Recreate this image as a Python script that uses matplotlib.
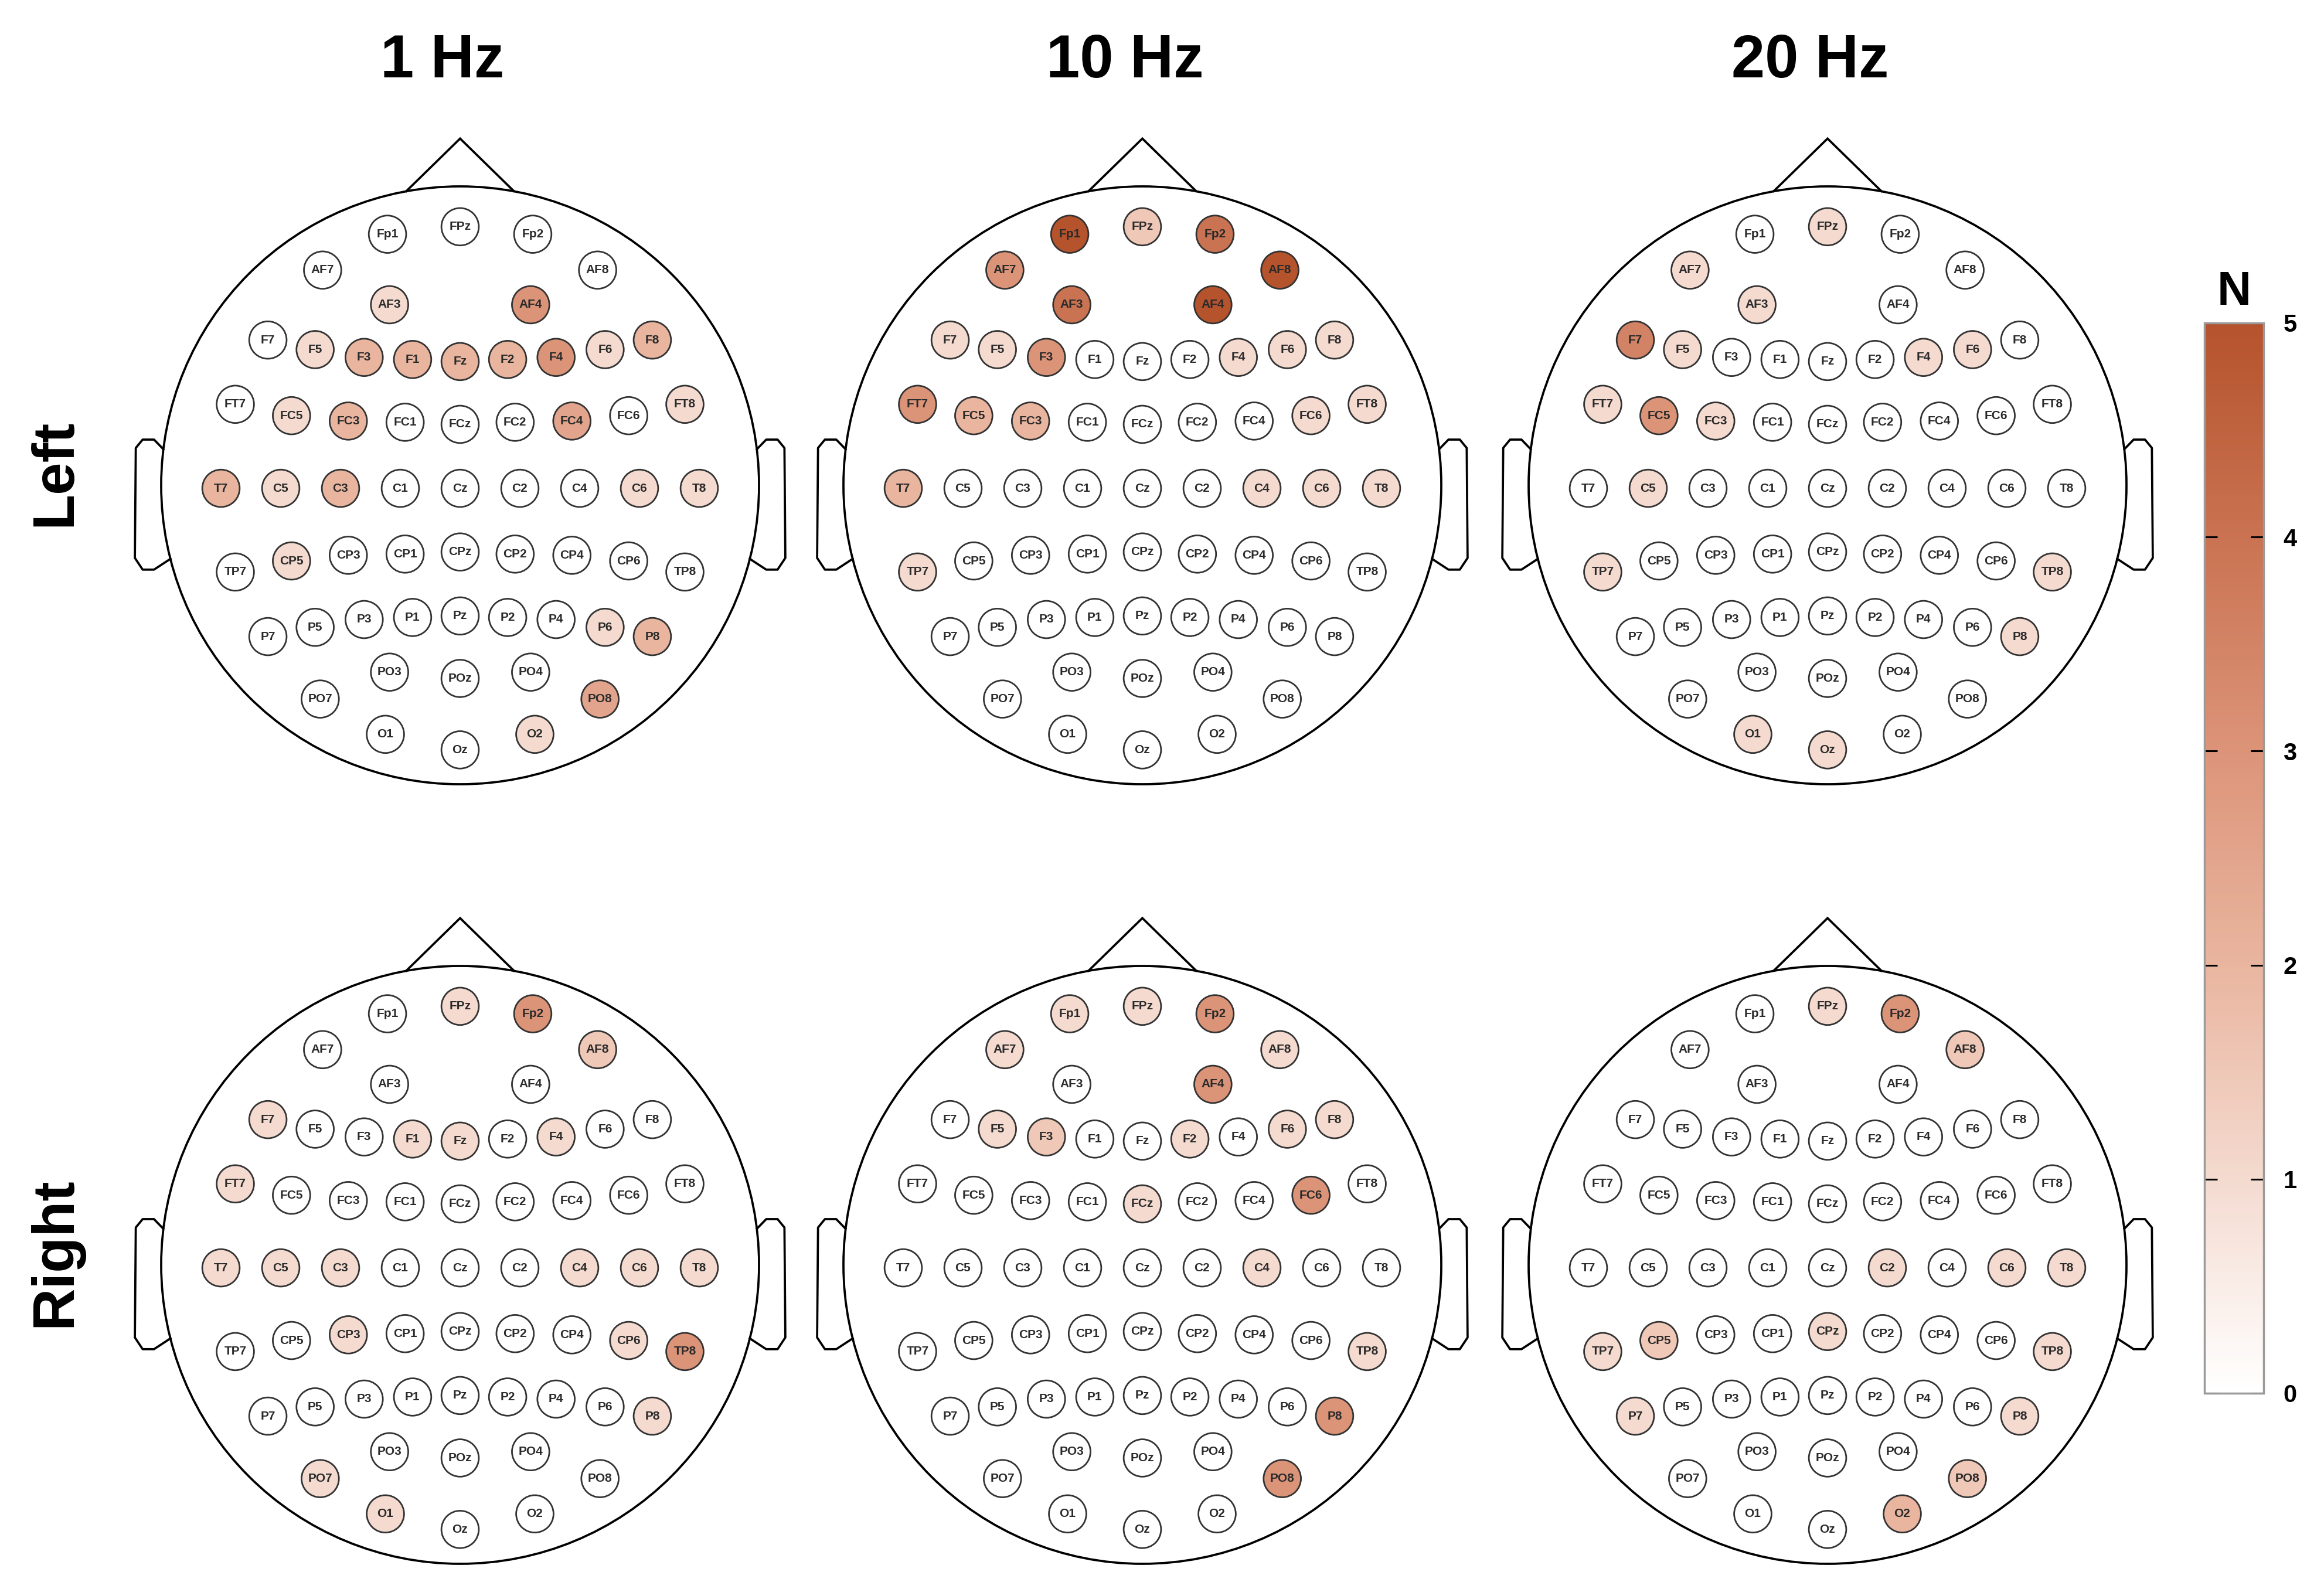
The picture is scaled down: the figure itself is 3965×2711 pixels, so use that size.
import matplotlib
matplotlib.use('Agg')
import matplotlib.pyplot as plt
import numpy as np
from matplotlib.patches import Circle
from matplotlib.colors import LinearSegmentedColormap, Normalize
import matplotlib.cm as cm

plt.rcParams['font.family'] = ['Liberation Sans', 'DejaVu Sans']

# electrode layout (head radius = 1, Cz near the centre)
channels = ['Fp1', 'FPz', 'Fp2',
            'AF7', 'AF3', 'AF4', 'AF8',
            'F7', 'F5', 'F3', 'F1', 'Fz', 'F2', 'F4', 'F6', 'F8',
            'FT7', 'FC5', 'FC3', 'FC1', 'FCz', 'FC2', 'FC4', 'FC6', 'FT8',
            'T7', 'C5', 'C3', 'C1', 'Cz', 'C2', 'C4', 'C6', 'T8',
            'TP7', 'CP5', 'CP3', 'CP1', 'CPz', 'CP2', 'CP4', 'CP6', 'TP8',
            'P7', 'P5', 'P3', 'P1', 'Pz', 'P2', 'P4', 'P6', 'P8',
            'PO7', 'PO3', 'POz', 'PO4', 'PO8',
            'O1', 'Oz', 'O2']
chan_x = [-0.243, 0.0, 0.243,
          -0.46, -0.236, 0.236, 0.46,
          -0.643, -0.485, -0.321, -0.159, 0.0, 0.159, 0.321, 0.485, 0.643,
          -0.752, -0.564, -0.374, -0.184, 0.0, 0.184, 0.374, 0.564, 0.752,
          -0.8, -0.6, -0.4, -0.2, 0.0, 0.2, 0.4, 0.6, 0.8,
          -0.752, -0.564, -0.374, -0.184, 0.0, 0.184, 0.374, 0.564, 0.752,
          -0.643, -0.485, -0.321, -0.159, 0.0, 0.159, 0.321, 0.485, 0.643,
          -0.468, -0.236, 0.0, 0.236, 0.468,
          -0.25, 0.0, 0.25]
chan_y = [0.84, 0.865, 0.84,
          0.72, 0.604, 0.604, 0.72,
          0.486, 0.454, 0.428, 0.421, 0.414, 0.421, 0.428, 0.454, 0.486,
          0.271, 0.233, 0.215, 0.211, 0.204, 0.211, 0.215, 0.233, 0.271,
          -0.01, -0.01, -0.01, -0.01, -0.01, -0.01, -0.01, -0.01, -0.01,
          -0.29, -0.253, -0.234, -0.23, -0.223, -0.23, -0.234, -0.253, -0.29,
          -0.506, -0.475, -0.449, -0.442, -0.437, -0.442, -0.449, -0.475, -0.506,
          -0.715, -0.625, -0.646, -0.625, -0.715,
          -0.833, -0.885, -0.833]

freqs = ['1 Hz', '10 Hz', '20 Hz']
sides = ['Left', 'Right']

# N per electrode (electrodes not listed are 0)
left_1hz = {'AF3': 1, 'AF4': 3, 'F5': 1, 'F3': 2, 'F1': 2, 'Fz': 2, 'F2': 2, 'F4': 3,
            'F6': 1, 'F8': 2, 'FC5': 1, 'FC3': 2, 'FC4': 2.5, 'FT8': 1, 'T7': 2,
            'C5': 1, 'C3': 2, 'C6': 1, 'T8': 1, 'CP5': 1, 'P6': 1, 'P8': 2,
            'PO8': 2.5, 'O2': 1}
left_10hz = {'Fp1': 5, 'FPz': 1.5, 'Fp2': 4, 'AF7': 3, 'AF3': 4, 'AF4': 5, 'AF8': 5,
             'F7': 1, 'F5': 1, 'F3': 3, 'F4': 1, 'F6': 1, 'F8': 1, 'FT7': 3,
             'FC5': 2, 'FC3': 2, 'FC6': 1, 'FT8': 1, 'T7': 2, 'C4': 1, 'C6': 1,
             'T8': 1, 'TP7': 1}
left_20hz = {'FPz': 1, 'AF7': 1, 'AF3': 1, 'F7': 3.5, 'F5': 1, 'F4': 1, 'F6': 1,
             'FT7': 1, 'FC5': 3, 'FC3': 1, 'C5': 1, 'TP7': 1, 'TP8': 1, 'P8': 1,
             'O1': 1, 'Oz': 1}
right_1hz = {'FPz': 1, 'Fp2': 3, 'AF8': 1.5, 'F7': 1, 'F1': 1, 'Fz': 1, 'F4': 1,
             'FT7': 1, 'T7': 1, 'C5': 1, 'C3': 1, 'C4': 1, 'C6': 1, 'T8': 1,
             'CP3': 1, 'CP6': 1, 'TP8': 3, 'P8': 1, 'PO7': 1, 'O1': 1}
right_10hz = {'Fp1': 1, 'FPz': 1, 'Fp2': 3, 'AF7': 1, 'AF8': 1, 'AF4': 3, 'F5': 1,
              'F3': 1.5, 'F2': 1, 'F6': 1, 'F8': 1, 'FCz': 1, 'FC6': 3, 'C4': 1,
              'TP8': 1, 'P8': 3, 'PO8': 3}
right_20hz = {'FPz': 1, 'Fp2': 3, 'AF8': 1.5, 'C2': 1, 'C6': 1, 'T8': 1, 'TP7': 1,
              'CP5': 1.5, 'CPz': 1, 'TP8': 1, 'P7': 1, 'P8': 1, 'PO8': 1.5, 'O2': 2}

grid = [[left_1hz, left_10hz, left_20hz],
        [right_1hz, right_10hz, right_20hz]]

cmap = LinearSegmentedColormap.from_list(
    'wb', ['#ffffff', '#f4dacf', '#e9b59f', '#dc9479', '#ca7352', '#b5532d'])
norm = Normalize(0, 5)

W, H = 3966, 2711
fig = plt.figure(figsize=(W / 100, H / 100), dpi=100)

head_r = 510        # px
span = 1.2
col_cx = [785, 1949, 3118]
row_cy = [828, 2158]

nose_x = [-0.18, 0.0, 0.18]
nose_y = [0.984, 1.16, 0.984]
ear_x = np.array([-0.993, -1.024, -1.062, -1.085, -1.088, -1.062, -1.024, -0.969])
ear_y = np.array([0.121, 0.153, 0.153, 0.125, -0.243, -0.282, -0.282, -0.246])


def draw_head(ax):
    ax.add_patch(Circle((0, 0), 1, fill=False, ec='black', lw=2.7))
    ax.plot(nose_x, nose_y, color='black', lw=2.7, solid_joinstyle='miter')
    ax.plot(ear_x, ear_y, color='black', lw=2.7)
    ax.plot(-ear_x, ear_y, color='black', lw=2.7)


size = 2 * span * head_r
for i, side in enumerate(sides):
    for j, f in enumerate(freqs):
        cx, cy = col_cx[j], row_cy[i]
        ax = fig.add_axes([(cx - size / 2) / W, 1 - (cy + size / 2) / H, size / W, size / H])
        ax.set_xlim(-span, span)
        ax.set_ylim(-span, span)
        ax.axis('off')
        draw_head(ax)
        vals = grid[i][j]
        for name, x, y in zip(channels, chan_x, chan_y):
            v = vals.get(name, 0)
            ax.add_patch(Circle((x, y), 0.0625, fc=cmap(norm(v)), ec='#333333', lw=2.0))
            ax.text(x, y, name, ha='center', va='center', fontsize=15,
                    fontweight='bold', color='#2a2a2a')
        if i == 0:
            fig.text((cx - 30) / W, 1 - 132 / H, f, ha='center', va='baseline',
                     fontsize=74, fontweight='bold')
    fig.text(94 / W, 1 - (row_cy[i] - 22) / H, side, rotation=90, ha='center',
             va='center', fontsize=72, fontweight='bold')

# colour bar
cax = fig.add_axes([3761 / W, 1 - 2377 / H, 101 / W, 1826 / H])
cb = fig.colorbar(cm.ScalarMappable(norm=norm, cmap=cmap), cax=cax, ticks=range(6))
cb.outline.set_edgecolor('#9a9a9a')
cb.outline.set_linewidth(2.5)
cax.tick_params(direction='in', left=True, right=True, length=16, width=2.2,
                labelsize=30, pad=24)
for t in cax.get_yticklabels():
    t.set_fontweight('bold')
cax.set_title('N', fontsize=58, fontweight='bold', pad=22)

fig.savefig('out.png', dpi=100, facecolor='white')
